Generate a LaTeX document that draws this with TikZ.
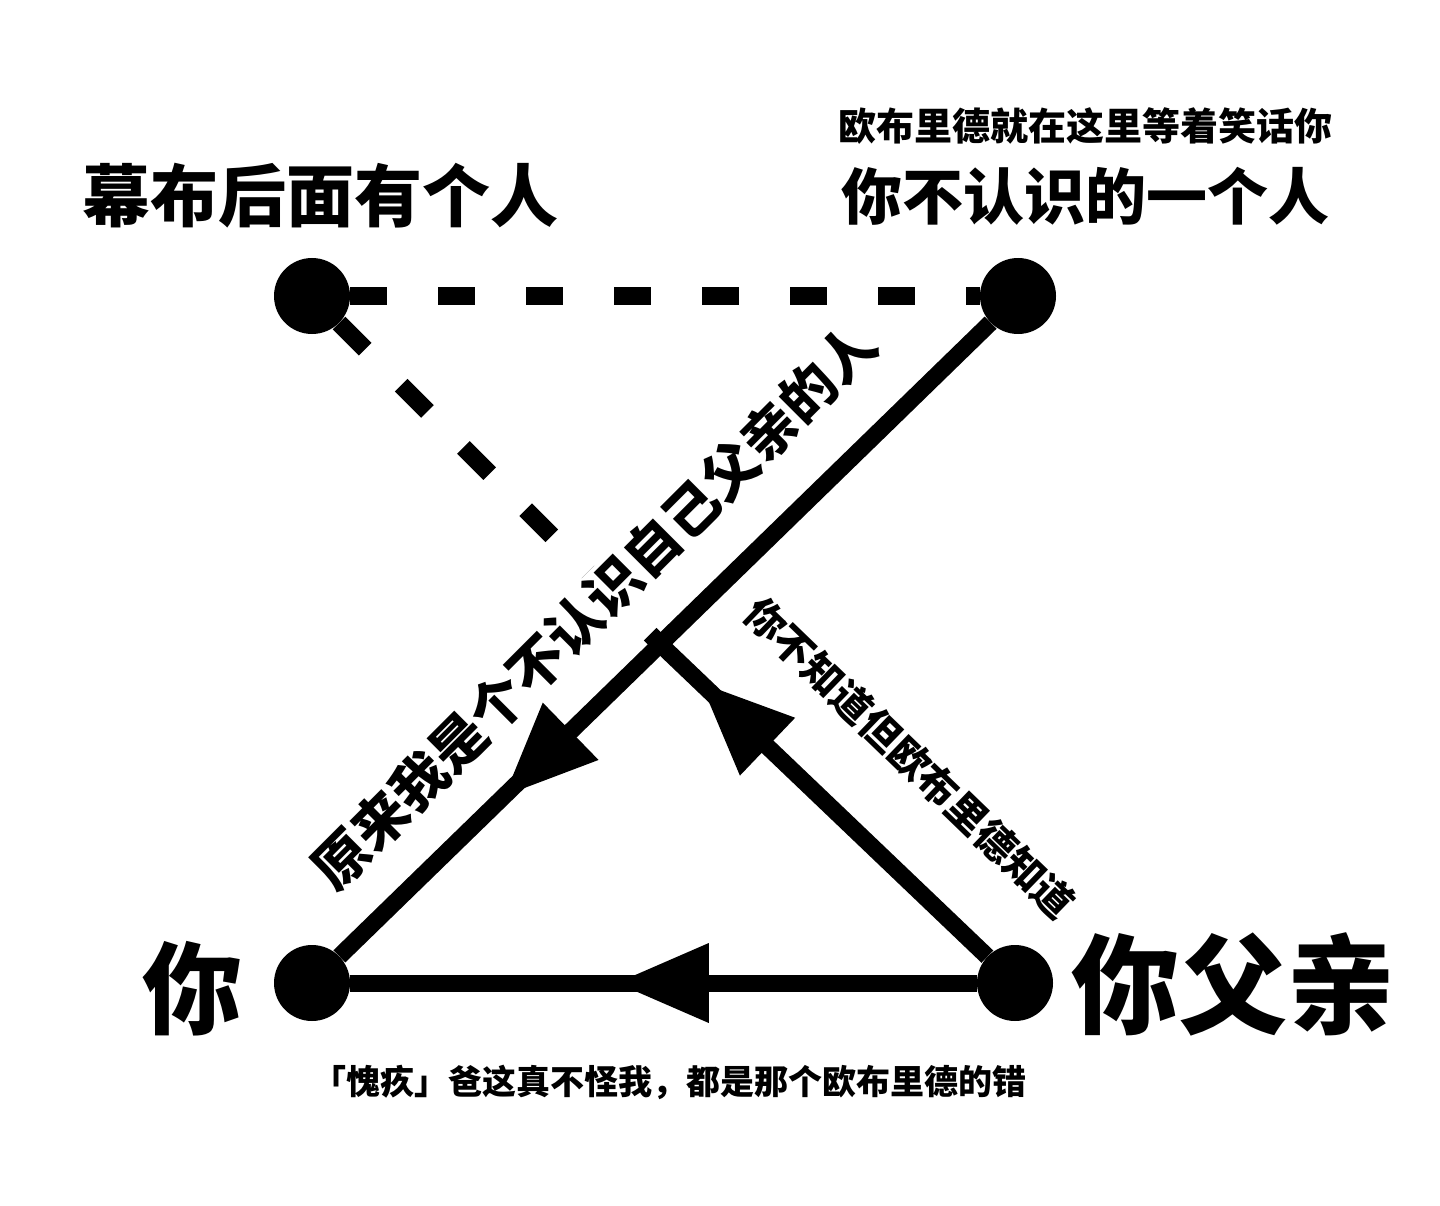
\documentclass[tikz,border=0pt]{standalone}
\usepackage{fontspec}
\newfontfamily\cjk{Noto Sans CJK SC}
\usetikzlibrary{arrows.meta,decorations.markings}

\tikzset{
  dot/.style={circle, fill=black, inner sep=0pt, minimum size=76pt},
  link/.style={line width=17pt},
  hidden/.style={line width=18pt, dash pattern=on 37pt off 51pt},
  midarrow/.style={postaction={decorate, decoration={markings,
      mark=at position #1 with {\arrow{Triangle[length=92pt, width=80pt, line width=0pt]}}}}},
  txt/.style={font=\cjk\bfseries\fontsize{#1}{#1}\selectfont, inner sep=2pt},
}

\begin{document}
\begin{tikzpicture}[x=1pt, y=-1pt]
  \useasboundingbox (0,0) rectangle (1440,1206);

  % the four people
  \node[dot] (tl) at (312,296) {};
  \node[dot] (tr) at (1018,296) {};
  \node[dot] (bl) at (312,983) {};
  \node[dot] (br) at (1015,983) {};
  \coordinate (x) at (660,644);

  % who they are
  \node[txt=68] (tllab) at (320,196) {幕布后面有个人};
  \node[txt=38] (trnote) at (1085,126) {欧布里德就在这里等着笑话你};
  \node[txt=61] (trlab) at (1085,196) {你不认识的一个人};
  \node[txt=100] (bllab) at (192,989) {你};
  \node[txt=108] (brlab) at (1233,984) {你父亲};
  \node[txt=34] (caption) at (669,1082) {「愧疚」爸这真不怪我，都是那个欧布里德的错};

  % dashed: the one behind the curtain
  \draw[hidden] (tl) -- (tr);
  \draw[hidden] (tl) -- (x);

  % texts along the lines
  \node[txt=55, fill=white, rotate=45] (diag) at (594,606) {原来我是个不认识自己父亲的人};
  \node[txt=40, rotate=-44] (side) at (910,758) {你不知道但欧布里德知道};

  % solid arrows
  \draw[link, midarrow=678pt] (tr) -- (bl);
  \draw[link, midarrow=360pt] (br) -- (bl);
  \draw[link, midarrow=396pt] (br) -- (x);
\end{tikzpicture}
\end{document}
